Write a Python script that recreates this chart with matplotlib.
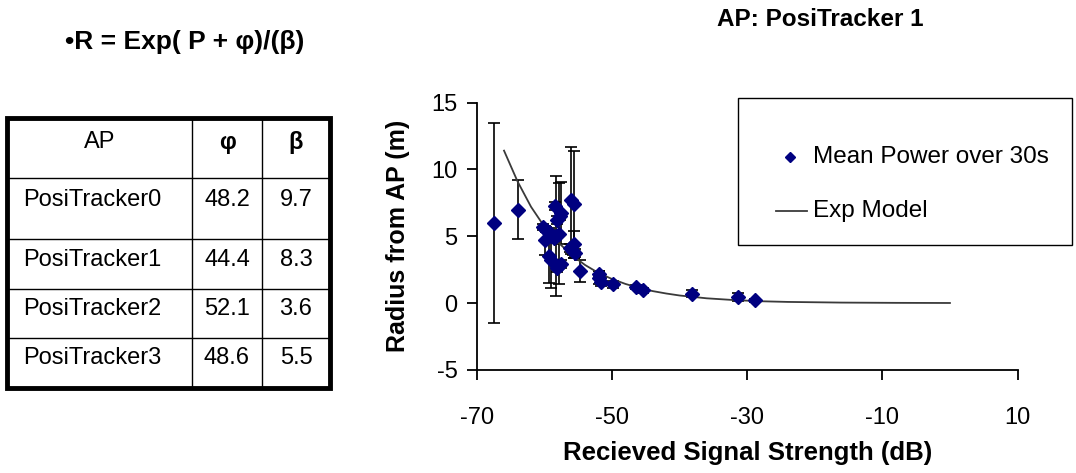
import matplotlib
matplotlib.use("Agg")
import matplotlib.pyplot as plt
from matplotlib.patches import Rectangle

plt.rcParams['font.family'] = ['Liberation Sans', 'DejaVu Sans']

# ---------------- data ----------------
title = "AP: PosiTracker 1"
formula = "•R = Exp( P + φ)/(β)"

table_header = ["AP", "φ", "β"]
ap_names = ["PosiTracker0", "PosiTracker1", "PosiTracker2", "PosiTracker3"]
phi_vals = ["48.2", "44.4", "52.1", "48.6"]
beta_vals = ["9.7", "8.3", "3.6", "5.5"]

rss = [-67.5, -64.0, -60.2, -59.8, -60.0, -59.4, -59.1, -58.6, -59.3, -59.1,
       -58.3, -57.8, -57.5, -58.4, -58.2, -57.7, -58.2, -57.6, -56.1, -55.6,
       -56.2, -55.8, -55.6, -55.5, -54.8, -52.0, -51.9, -51.7, -49.8, -46.5,
       -45.4, -38.2, -31.3, -28.9]
radius = [6.0, 7.0, 5.7, 5.5, 4.7, 5.3, 5.0, 4.9, 3.5, 3.2,
          5.0, 5.2, 6.75, 7.25, 6.25, 6.5, 2.65, 2.9, 7.7, 7.4,
          4.1, 3.9, 4.4, 3.75, 2.4, 2.2, 1.9, 1.6, 1.4, 1.2,
          0.95, 0.7, 0.45, 0.2]
radius_err = [7.5, 2.2, 0.2, 0.2, 1.1, 0.3, 0.3, 0.3, 2.0, 2.1,
              4.5, 3.8, 2.3, 0.3, 0.3, 0.3, 0.3, 0.3, 4.0, 4.0,
              0.3, 0.3, 1.0, 0.3, 0.85, 0.2, 0.5, 0.3, 0.25, 0.15,
              0.2, 0.25, 0.3, 0.1]

model_x = [-66, -64, -62, -60, -58, -56, -54, -52, -50, -48, -46, -44, -42,
           -40, -36, -32, -28, -24, -16, -8, 0]
model_y = [11.4, 9.1, 7.2, 5.7, 4.55, 3.6, 2.85, 2.25, 1.8, 1.43, 1.14, 0.9,
           0.72, 0.57, 0.36, 0.23, 0.14, 0.09, 0.04, 0.02, 0.01]

xticks = [-70, -50, -30, -10, 10]
yticks = [-5, 0, 5, 10, 15]

series_label = "Mean Power over 30s"
model_label = "Exp Model"
xlabel = "Recieved Signal Strength (dB)"
ylabel = "Radius from AP (m)"

# ---------------- figure ----------------
W, H = 1076, 473
fig = plt.figure(figsize=(W / 100, H / 100), dpi=100)
fig.patch.set_facecolor("white")

# overlay in pixel coordinates for table / legend / formula
ov = fig.add_axes([0, 0, 1, 1], zorder=0)
ov.set_xlim(0, W)
ov.set_ylim(H, 0)
ov.axis("off")
ov.patch.set_alpha(0)

ax = fig.add_axes([477 / W, 1 - 370 / H, (1017.5 - 477) / W, (370 - 102.5) / H], zorder=1)
ax.patch.set_alpha(0)

marker_color = "#000080"
ax.errorbar(rss, radius, yerr=radius_err, fmt="none", ecolor="black",
            elinewidth=1.2, capsize=4, capthick=1.2, zorder=2)
ax.plot(model_x, model_y, color="#3a3a3a", lw=1.3, zorder=3)
ax.plot(rss, radius, linestyle="none", marker="D", ms=7,
        color=marker_color, mec=marker_color, zorder=4)

ax.set_xlim(-70, 10)
ax.set_ylim(-5, 15)
ax.set_xticks(xticks)
ax.set_yticks(yticks)
ax.set_xticklabels([str(t) for t in xticks])
ax.set_yticklabels([str(t) for t in yticks])
for s in ["top", "right"]:
    ax.spines[s].set_visible(False)
for s in ["left", "bottom"]:
    ax.spines[s].set_linewidth(1.3)
ax.tick_params(axis="both", direction="out", length=7, width=1.3, labelsize=17)
ax.tick_params(axis="x", pad=20)
ax.tick_params(axis="y", pad=7)
ax.set_xlabel(xlabel, fontsize=18.5, fontweight="bold", labelpad=8)
ax.set_ylabel(ylabel, fontsize=18, fontweight="bold", labelpad=15)

# title
fig.text(820 / W, 1 - 19 / H, title, ha="center", va="center",
         fontsize=17.5, fontweight="bold")

# formula
ov.text(185, 42, formula, ha="center", va="center", fontsize=19, fontweight="bold")

# legend box
ov.add_patch(Rectangle((738, 98), 334, 147, fill=False, ec="black", lw=1.0))
ov.plot([790], [157], linestyle="none", marker="D", ms=5.5,
        color=marker_color, mec=marker_color)
ov.text(813, 157, series_label, ha="left", va="center", fontsize=17.5)
ov.plot([776, 807], [211, 211], color="#3a3a3a", lw=1.3)
ov.text(813, 211, model_label, ha="left", va="center", fontsize=17.5)

# table
tx0, tx1 = 7, 330
ty0, ty1 = 118, 388
col_x = [tx0, 192, 262, tx1]
row_y = [ty0, 178, 239, 289, 338, ty1]
for cx in col_x[1:-1]:
    ov.plot([cx, cx], [ty0, ty1], color="black", lw=1.0)
for ry in row_y[1:-1]:
    ov.plot([tx0, tx1], [ry, ry], color="black", lw=1.0)
ov.add_patch(Rectangle((tx0, ty0), tx1 - tx0, ty1 - ty0, fill=False,
                       ec="black", lw=3.5))

ov.text((col_x[0] + col_x[1]) / 2, 142, table_header[0], ha="center", va="center", fontsize=17)
ov.text((col_x[1] + col_x[2]) / 2, 142, table_header[1], ha="center", va="center",
        fontsize=17, fontweight="bold")
ov.text((col_x[2] + col_x[3]) / 2, 142, table_header[2], ha="center", va="center",
        fontsize=17, fontweight="bold")
text_y = [200, 260, 309, 358]
for i in range(len(ap_names)):
    ov.text(23, text_y[i], ap_names[i], ha="left", va="center", fontsize=17)
    ov.text((col_x[1] + col_x[2]) / 2, text_y[i], phi_vals[i], ha="center", va="center", fontsize=17)
    ov.text((col_x[2] + col_x[3]) / 2, text_y[i], beta_vals[i], ha="center", va="center", fontsize=17)

fig.savefig("out.png", dpi=100)
